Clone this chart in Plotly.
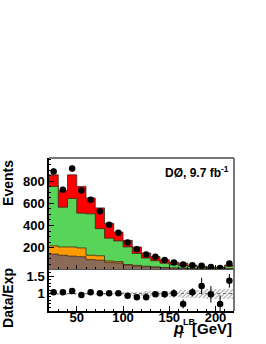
import numpy as np
import plotly.graph_objects as go
from plotly.subplots import make_subplots

# bin edges of pT^LB [GeV]
bin_edges = [20, 30, 40, 50, 60, 70, 80, 90, 100, 110, 120, 130, 140, 150, 160, 170, 180, 190, 200, 210, 220]

# stacked expectation components (events per bin)
brown = [140, 130, 122, 116, 90, 85, 65, 60, 40, 30, 25, 20, 15, 12, 10, 8, 6, 5, 4, 8]
orange = [75, 75, 83, 80, 40, 40, 13, 12, 5, 8, 5, 4, 3, 3, 2, 2, 2, 1, 1, 2]
green = [540, 361, 440, 316, 376, 246, 207, 188, 160, 108, 74, 56, 40, 30, 23, 18, 14, 11, 9, 20]
red = [105, 154, 215, 243, 144, 189, 135, 80, 60, 59, 46, 38, 32, 22, 23, 12, 8, 6, 6, 12]

# data
data = [890, 725, 917, 718, 634, 530, 407, 335, 245, 185, 137, 115, 86, 65, 45, 38, 35, 22, 15, 55]

# ratio panel
ratio = [1.035, 1.035, 1.073, 0.956, 1.035, 1.006, 1.006, 1.006, 0.936, 0.89,
         0.89, 0.977, 0.977, 1.006, 0.695, 1.035, 1.218, 0.977, 0.695, 1.372]
ratio_err = [0.03, 0.03, 0.03, 0.03, 0.035, 0.035, 0.04, 0.04, 0.045, 0.05,
             0.05, 0.08, 0.1, 0.12, 0.13, 0.12, 0.24, 0.24, 0.25, 0.2]
syst = [0.02, 0.02, 0.02, 0.02, 0.025, 0.03, 0.04, 0.05, 0.06, 0.07,
        0.08, 0.09, 0.1, 0.1, 0.11, 0.12, 0.13, 0.14, 0.15, 0.15]

x_ticks = [50, 100, 150, 200]
y_ticks = [200, 400, 600, 800]
r_ticks = [1, 1.5]

edges = np.array(bin_edges, dtype=float)
centers = 0.5 * (edges[:-1] + edges[1:])
widths = np.diff(edges)

c1 = np.array(brown, float)
c2 = c1 + np.array(orange, float)
c3 = c2 + np.array(green, float)
c4 = c3 + np.array(red, float)

fig = make_subplots(rows=2, cols=1, shared_xaxes=True, vertical_spacing=0,
                    row_heights=[0.729, 0.271])

layers = [(c4, '#ff0000'), (c3, '#58d558'), (c2, '#ff9a00'), (c1, '#8c6a58')]
for cum, col in layers:
    yy = np.append(cum, cum[-1])
    fig.add_trace(go.Scatter(x=edges, y=yy, mode='lines', line=dict(shape='hv', color='#3a2a20', width=0.8),
                             fill='tozeroy', fillcolor=col, showlegend=False, hoverinfo='skip'), row=1, col=1)

fig.add_trace(go.Scatter(x=centers, y=data, mode='markers',
                         marker=dict(color='black', size=6.5),
                         error_y=dict(type='data', array=np.sqrt(np.array(data, float)), color='black', thickness=1, width=0),
                         showlegend=False), row=1, col=1)

# ratio: hatched systematic band
s = np.array(syst)
fig.add_trace(go.Bar(x=centers, y=2 * s, base=1 - s, width=widths,
                     marker=dict(color='rgba(0,0,0,0)', line=dict(width=0),
                                 pattern=dict(shape='/', fgcolor='#555555', bgcolor='rgba(0,0,0,0)', size=3, solidity=0.4)),
                     showlegend=False, hoverinfo='skip'), row=2, col=1)
fig.add_trace(go.Scatter(x=[edges[0], edges[-1]], y=[1, 1], mode='lines',
                         line=dict(color='#8a6a60', width=1, dash='dot'), showlegend=False, hoverinfo='skip'), row=2, col=1)
fig.add_trace(go.Scatter(x=centers, y=ratio, mode='markers',
                         marker=dict(color='black', size=6.5),
                         error_y=dict(type='data', array=ratio_err, color='black', thickness=1, width=0),
                         showlegend=False), row=2, col=1)

tfont = dict(family='Liberation Sans', size=13, color='black', weight='bold')

fig.update_xaxes(range=[20, 220], showgrid=False, zeroline=False,
                 tickvals=x_ticks, ticks='inside', ticklen=5, tickcolor='black',
                 minor=dict(ticks='inside', ticklen=2.5, dtick=10, tick0=0, tickcolor='black'))
fig.update_xaxes(showticklabels=False, showline=False, row=1, col=1)
fig.update_xaxes(showline=True, linecolor='black', linewidth=1.5, tickfont=tfont, ticklabelstandoff=-6, row=2, col=1)

fig.update_yaxes(range=[0, 1013], tickvals=y_ticks, showgrid=False, zeroline=False,
                 showline=True, linecolor='black', linewidth=1.5, ticks='inside', ticklen=5, tickcolor='black',
                 minor=dict(ticks='inside', ticklen=2.5, dtick=50, tickcolor='black'),
                 tickfont=tfont, row=1, col=1)
fig.update_yaxes(range=[0.49, 1.70], tickvals=r_ticks, ticktext=['1' if v == 1 else '1.5' for v in r_ticks],
                 showgrid=False, zeroline=False,
                 showline=True, linecolor='black', linewidth=1.5, ticks='inside', ticklen=5, tickcolor='black',
                 minor=dict(ticks='inside', ticklen=2.5, dtick=0.1, tickcolor='black'),
                 tickfont=tfont, row=2, col=1)

shapes = [
    dict(type='line', xref='paper', yref='paper', x0=0, x1=1, y0=1, y1=1, line=dict(color='#777777', width=2)),
    dict(type='line', xref='paper', yref='paper', x0=1, x1=1, y0=0, y1=1, line=dict(color='#777777', width=2)),
    dict(type='line', xref='paper', yref='paper', x0=0, x1=1, y0=0.271, y1=0.271, line=dict(color='#555555', width=1)),
]

def py(ypix):
    return (311 - ypix) / 153

def px(xpix):
    return (xpix - 49) / 185

ann = [
    dict(text='<b>Events</b>', x=-0.222, y=1, xref='paper', yref='paper', textangle=-90,
         xanchor='center', yanchor='top', showarrow=False,
         font=dict(family='Liberation Sans', size=14, color='black')),
    dict(text='<b>Data/Exp</b>', x=-0.222, y=0.085, xref='paper', yref='paper', textangle=-90,
         xanchor='center', yanchor='middle', showarrow=False,
         font=dict(family='Liberation Sans', size=14, color='black')),
    dict(text='<b>DØ, 9.7 fb<sup>-1</sup></b>', x=0.984, y=0.91, xref='paper', yref='paper',
         xanchor='right', yanchor='middle', showarrow=False,
         font=dict(family='Liberation Sans', size=12, color='black')),
    dict(text='<b><i>p</i></b>', x=px(171), y=py(328), xref='paper', yref='paper',
         xanchor='left', yanchor='middle', showarrow=False,
         font=dict(family='Liberation Sans', size=16, color='black')),
    dict(text='<b><i>T</i></b>', x=px(176), y=py(334.5), xref='paper', yref='paper',
         xanchor='left', yanchor='middle', showarrow=False,
         font=dict(family='Liberation Sans', size=9, color='black')),
    dict(text='<b>LB</b>', x=px(180.5), y=py(321.5), xref='paper', yref='paper',
         xanchor='left', yanchor='middle', showarrow=False,
         font=dict(family='Liberation Sans', size=9, color='black')),
    dict(text='<b>[GeV]</b>', x=px(234), y=py(328.5), xref='paper', yref='paper',
         xanchor='right', yanchor='middle', showarrow=False,
         font=dict(family='Liberation Sans', size=15, color='black')),
]

fig.update_layout(width=266, height=344, margin=dict(l=49, r=32, t=158, b=33),
                  plot_bgcolor='white', paper_bgcolor='white', showlegend=False,
                  shapes=shapes, annotations=ann, bargap=0)

fig.write_html('out.html', config={'displayModeBar': False},
               post_script="document.body.style.margin='0';document.body.style.overflow='hidden';")
